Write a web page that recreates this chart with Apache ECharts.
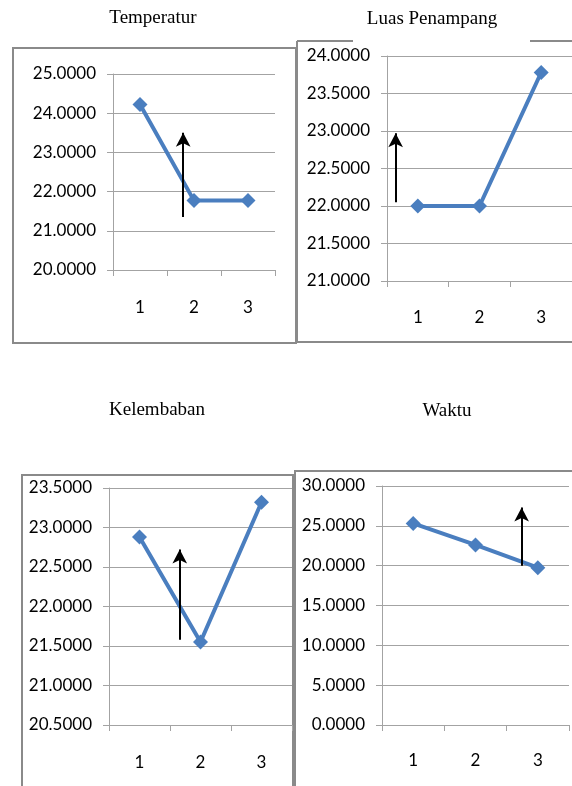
<!DOCTYPE html>
<html>
<head>
<meta charset="utf-8">
<script src="https://cdn.jsdelivr.net/npm/echarts@6/dist/echarts.min.js"></script>
<style>
  html, body { margin: 0; padding: 0; background: #fff; }
  #chart { width: 572px; height: 786px; }
</style>
</head>
<body>
<div id="chart"></div>
<script>
// data
var categories = ['1', '2', '3'];
var titles = ['Temperatur', 'Luas Penampang', 'Kelembaban', 'Waktu'];
var temperatur = [24.22, 21.77, 21.77];
var luasPenampang = [22.00, 22.00, 23.78];
var kelembaban = [22.88, 21.55, 23.32];
var waktu = [25.30, 22.60, 19.75];
var yMin = [20, 21, 20.5, 0];
var yMax = [25, 24, 23.5, 30];
var yStep = [1, 0.5, 0.5, 5];
// arrows: [x position on 0.5..3.5 scale, from value, to value]
var arrows = [
  [1.80, 21.35, 23.50],
  [0.64, 22.05, 22.97],
  [1.66, 21.58, 22.72],
  [2.74, 20.00, 27.30]
];

var allValues = [temperatur, luasPenampang, kelembaban, waktu];

// layout of each panel
var grids = [
  { left: 113, top: 74, width: 162, height: 196 },
  { left: 387, top: 56, width: 186, height: 225 },
  { left: 109, top: 488, width: 183, height: 237 },
  { left: 382, top: 486, width: 187, height: 239 }
];
var titlePos = [[153, 9], [432, 10], [157, 401], [447, 402]];
var xLabelMargin = [29, 28, 29, 27];

var chart = echarts.init(document.getElementById('chart'));

var gray = '#a3a3a3';
var blue = '#4a7ebf';
var labelFont = { fontFamily: 'Lato', fontSize: 17, color: '#000' };

var xAxes = [], yAxes = [], series = [], titleList = [];
for (var i = 0; i < 4; i++) {
  titleList.push({
    text: titles[i],
    left: titlePos[i][0],
    top: titlePos[i][1],
    textAlign: 'center',
    padding: 0,
    textStyle: { fontFamily: 'Liberation Serif', fontSize: 19, fontWeight: 'normal', color: '#000' }
  });
  xAxes.push({
    type: 'category',
    gridIndex: i,
    data: categories,
    boundaryGap: true,
    axisLine: { show: true, lineStyle: { color: gray, width: 1 } },
    axisTick: { show: true, length: 6, lineStyle: { color: gray } },
    axisLabel: Object.assign({ margin: xLabelMargin[i] }, labelFont),
    splitLine: { show: false }
  });
  // hidden value axis, used to place the arrows between categories
  xAxes.push({
    type: 'value',
    gridIndex: i,
    min: 0.5,
    max: 3.5,
    show: false
  });
  yAxes.push({
    type: 'value',
    gridIndex: i,
    min: yMin[i],
    max: yMax[i],
    interval: yStep[i],
    axisLine: { show: true, lineStyle: { color: gray, width: 1 } },
    axisTick: { show: true, length: 6, lineStyle: { color: gray } },
    axisLabel: Object.assign({
      margin: 17,
      formatter: function (v) { return v.toFixed(4); }
    }, labelFont),
    splitLine: { show: true, lineStyle: { color: gray, width: 1 } }
  });
  series.push({
    type: 'line',
    xAxisIndex: i * 2,
    yAxisIndex: i,
    data: allValues[i],
    symbol: 'diamond',
    symbolSize: 15,
    showSymbol: true,
    itemStyle: { color: blue },
    lineStyle: { color: blue, width: 4 },
    animation: false
  });
  series.push({
    type: 'line',
    xAxisIndex: i * 2 + 1,
    yAxisIndex: i,
    data: [],
    animation: false,
    markLine: {
      silent: true,
      animation: false,
      symbol: ['none', 'arrow'],
      symbolSize: [11, 14],
      label: { show: false },
      lineStyle: { color: '#000', width: 2, type: 'solid' },
      data: [[
        { coord: [arrows[i][0], arrows[i][1]] },
        { coord: [arrows[i][0], arrows[i][2]] }
      ]]
    }
  });
}

var border = { fill: 'none', stroke: '#8a8a8a', lineWidth: 2 };

var option = {
  backgroundColor: '#fff',
  animation: false,
  title: titleList,
  grid: grids,
  xAxis: xAxes,
  yAxis: yAxes,
  series: series,
  graphic: [
    { type: 'rect', shape: { x: 13, y: 48, width: 283, height: 295 }, style: border, silent: true },
    { type: 'line', shape: { x1: 297, y1: 41, x2: 297, y2: 342 }, style: border, silent: true },
    { type: 'line', shape: { x1: 297, y1: 342, x2: 575, y2: 342 }, style: border, silent: true },
    { type: 'line', shape: { x1: 297, y1: 41, x2: 353, y2: 41 }, style: border, silent: true },
    { type: 'line', shape: { x1: 530, y1: 41, x2: 575, y2: 41 }, style: border, silent: true },
    { type: 'rect', shape: { x: 22, y: 475, width: 271, height: 330 }, style: border, silent: true },
    { type: 'rect', shape: { x: 295, y: 471, width: 300, height: 330 }, style: border, silent: true }
  ]
};

chart.setOption(option);
</script>
</body>
</html>
